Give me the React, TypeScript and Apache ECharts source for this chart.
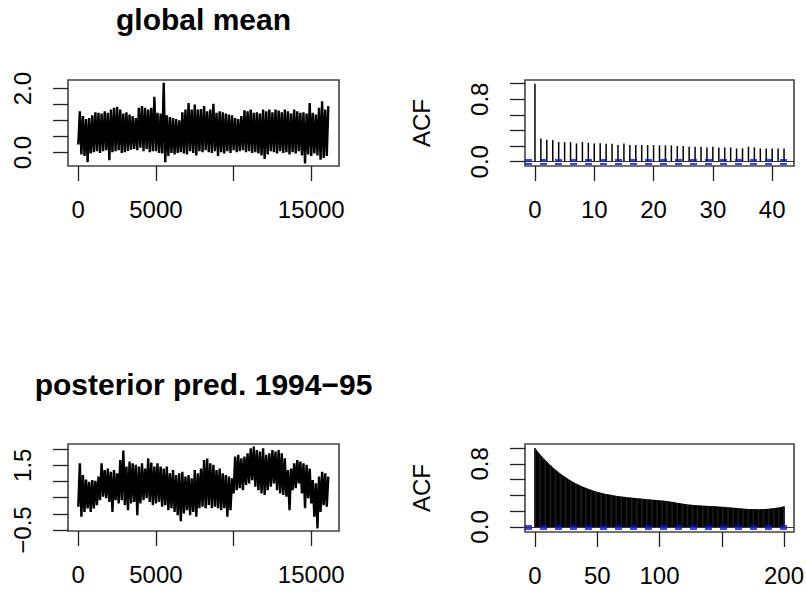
import React, { useEffect, useRef } from "react";
import * as echarts from "echarts";

const FONT = "'Liberation Sans', Arial, Helvetica, sans-serif";

// MCMC trace, summarised per block of BIN iterations: block low / block high
const BIN = 200;
const meanHi = [
  1.29, 1.14, 1.05, 1.08, 1.16, 1.26, 1.24, 1.22, 1.29, 1.24,
  1.34, 1.40, 1.43, 1.34, 1.22, 1.26, 1.19, 1.14, 1.08, 1.40,
  1.45, 1.40, 1.34, 1.40, 1.74, 1.24, 1.22, 2.18, 1.16, 1.11,
  1.08, 1.05, 1.01, 1.26, 1.34, 1.55, 1.34, 1.50, 1.34, 1.36,
  1.45, 1.29, 1.34, 1.52, 1.24, 1.29, 1.26, 1.22, 1.19, 1.16,
  1.08, 1.05, 1.14, 1.32, 1.29, 1.34, 1.24, 1.26, 1.22, 1.34,
  1.29, 1.34, 1.26, 1.34, 1.31, 1.26, 1.34, 1.29, 1.22, 1.34,
  1.29, 1.24, 1.26, 1.22, 1.55, 1.24, 1.19, 1.40, 1.60, 1.34,
  1.45,
];
const meanLo = [
  0.25, -0.06, -0.11, -0.30, -0.03, 0.01, 0.04, -0.01, 0.04, 0.07,
  -0.24, 0.01, 0.04, 0.07, -0.01, 0.01, 0.05, 0.09, 0.11, 0.07,
  0.15, 0.04, 0.11, 0.01, 0.04, 0.04, -0.01, -0.03, -0.30, -0.11,
  -0.01, -0.06, -0.01, 0.01, -0.03, -0.06, 0.04, -0.01, -0.09, 0.04,
  0.01, 0.07, 0.01, -0.01, 0.04, -0.11, 0.01, -0.03, 0.04, -0.01,
  0.07, 0.01, 0.04, 0.07, 0.01, 0.04, -0.01, 0.01, -0.03, -0.09,
  -0.20, -0.06, 0.04, 0.01, -0.03, 0.04, -0.01, 0.01, -0.06, 0.01,
  -0.03, 0.04, -0.09, -0.34, -0.06, -0.11, -0.03, -0.09, -0.22, -0.17,
  -0.11,
];
const predHi = [
  1.56, 1.20, 1.06, 0.99, 1.04, 1.02, 1.15, 1.56, 1.35, 1.40,
  1.30, 1.35, 1.25, 1.66, 1.95, 1.46, 1.61, 1.56, 1.51, 1.46,
  1.56, 1.40, 1.71, 1.58, 1.46, 1.56, 1.46, 1.40, 1.46, 1.25,
  1.35, 1.20, 1.25, 1.30, 1.15, 1.20, 1.10, 1.35, 1.25, 1.40,
  1.66, 1.71, 1.56, 1.51, 1.35, 1.40, 1.25, 1.20, 1.15, 1.10,
  1.77, 1.82, 1.71, 1.77, 1.87, 2.02, 2.08, 1.97, 1.92, 2.02,
  1.82, 1.87, 1.97, 1.92, 1.97, 1.87, 1.71, 1.35, 1.40, 1.56,
  1.66, 1.61, 1.56, 1.51, 1.40, 1.04, 0.94, 1.15, 1.30, 1.25,
  1.15,
];
const predLo = [
  0.22, -0.09, 0.06, 0.17, 0.06, 0.17, 0.27, 0.42, 0.53, 0.48,
  0.37, 0.06, 0.42, 0.32, 0.42, 0.27, 0.11, 0.32, 0.37, -0.04,
  0.32, 0.42, 0.48, 0.37, 0.27, 0.32, 0.37, 0.22, 0.27, 0.11,
  0.17, 0.06, -0.04, -0.23, 0.01, 0.11, -0.04, 0.06, -0.09, 0.17,
  0.22, 0.17, 0.27, 0.17, 0.22, 0.17, 0.11, 0.17, -0.09, 0.11,
  0.63, 0.73, 0.79, 0.73, 0.89, 0.94, 1.04, 0.84, 0.73, 0.63,
  0.58, 0.73, 0.84, 0.94, 0.73, 0.63, 0.58, 0.53, 0.11, 0.73,
  0.79, 0.94, 0.63, 0.17, 0.48, 0.32, -0.09, -0.45, 0.06, 0.27,
  0.22,
];

// autocorrelations, lag 0..42 and lag 0..200
const acfMean = [
  1.0, 0.298, 0.281, 0.277, 0.251, 0.251, 0.251, 0.234, 0.251, 0.243,
  0.234, 0.238, 0.23, 0.23, 0.213, 0.234, 0.213, 0.213, 0.213, 0.213,
  0.213, 0.21, 0.209, 0.209, 0.2, 0.2, 0.191, 0.191, 0.191, 0.183,
  0.191, 0.183, 0.183, 0.183, 0.17, 0.17, 0.191, 0.183, 0.17, 0.17,
  0.17, 0.17, 0.17,
];
const acfPred = [
  1.000, 0.979, 0.959, 0.940, 0.920, 0.902, 0.885, 0.868, 0.851, 0.835,
  0.820, 0.804, 0.789, 0.774, 0.759, 0.745, 0.732, 0.719, 0.705, 0.692,
  0.680, 0.669, 0.658, 0.646, 0.635, 0.625, 0.615, 0.604, 0.594, 0.584,
  0.575, 0.567, 0.558, 0.550, 0.542, 0.535, 0.528, 0.520, 0.513, 0.507,
  0.500, 0.494, 0.488, 0.482, 0.476, 0.470, 0.465, 0.460, 0.455, 0.450,
  0.445, 0.441, 0.437, 0.433, 0.429, 0.425, 0.422, 0.419, 0.416, 0.413,
  0.410, 0.407, 0.404, 0.401, 0.398, 0.395, 0.393, 0.391, 0.389, 0.387,
  0.385, 0.383, 0.381, 0.379, 0.377, 0.375, 0.374, 0.372, 0.371, 0.369,
  0.368, 0.366, 0.365, 0.363, 0.362, 0.360, 0.358, 0.357, 0.355, 0.354,
  0.352, 0.351, 0.349, 0.348, 0.346, 0.345, 0.344, 0.342, 0.341, 0.339,
  0.338, 0.336, 0.335, 0.333, 0.332, 0.330, 0.328, 0.325, 0.323, 0.320,
  0.318, 0.315, 0.313, 0.310, 0.308, 0.305, 0.302, 0.300, 0.297, 0.295,
  0.292, 0.290, 0.288, 0.286, 0.284, 0.282, 0.281, 0.279, 0.278, 0.276,
  0.275, 0.274, 0.273, 0.272, 0.271, 0.270, 0.269, 0.268, 0.268, 0.267,
  0.266, 0.265, 0.264, 0.264, 0.263, 0.262, 0.261, 0.260, 0.258, 0.257,
  0.256, 0.255, 0.254, 0.252, 0.251, 0.250, 0.249, 0.247, 0.246, 0.244,
  0.243, 0.242, 0.240, 0.239, 0.237, 0.236, 0.235, 0.233, 0.232, 0.231,
  0.230, 0.229, 0.228, 0.227, 0.227, 0.226, 0.226, 0.225, 0.225, 0.225,
  0.225, 0.225, 0.226, 0.226, 0.227, 0.228, 0.229, 0.231, 0.232, 0.234,
  0.235, 0.237, 0.239, 0.241, 0.243, 0.245, 0.248, 0.251, 0.254, 0.258,
  0.262,
];
const CONF = 0.016;

const titles = ["global mean", "posterior pred. 1994\u221295"];
const traceXTicks = [0, 5000, 10000, 15000];
const traceXLabels = [0, 5000, 15000];
const meanYTicks = [0, 0.5, 1, 1.5, 2];
const meanYLabels = [0, 2];
const predYTicks = [-0.5, 0, 0.5, 1, 1.5, 2];
const predYLabels = [-0.5, 1.5];
const acfMeanXTicks = [0, 10, 20, 30, 40];
const acfPredXTicks = [0, 50, 100, 150, 200];
const acfPredXLabels = [0, 50, 100, 200];
const acfYTicks = [0, 0.2, 0.4, 0.6, 0.8, 1.0];
const acfYLabels = [0, 0.8];

function zigzag(lo: number[], hi: number[]) {
  const pts: number[][] = [];
  for (let i = 0; i < lo.length; i++) {
    pts.push([i * BIN, lo[i]]);
    pts.push([i * BIN + BIN / 2, hi[i]]);
  }
  return pts;
}

const tickStyle = { color: "#222", width: 1.3 };
const labelText = { fontSize: 24, fontFamily: FONT, color: "#000" };

function xAxis(gridIndex: number, min: number, max: number, ticks: number[], labels: number[]) {
  return {
    type: "value",
    gridIndex,
    min,
    max,
    axisLine: { show: false, onZero: false },
    splitLine: { show: false },
    axisTick: { show: true, length: 15, customValues: ticks, lineStyle: tickStyle },
    axisLabel: {
      show: true,
      customValues: labels,
      margin: 31,
      ...labelText,
      formatter: (v: number) => String(v),
    },
  };
}

function yAxis(gridIndex: number, min: number, max: number, ticks: number[], labels: number[], name?: string) {
  return {
    type: "value",
    gridIndex,
    min,
    max,
    name: name || "",
    nameLocation: "middle",
    nameGap: 92,
    nameTextStyle: { ...labelText },
    axisLine: { show: false, onZero: false },
    splitLine: { show: false },
    axisTick: { show: true, length: 15, customValues: ticks, lineStyle: tickStyle },
    axisLabel: {
      show: true,
      customValues: labels,
      rotate: 90,
      margin: 34,
      ...labelText,
      formatter: (v: number) => v.toFixed(1).replace("-", "\u2212"),
    },
  };
}

function acfMarks() {
  return {
    symbol: "none",
    silent: true,
    label: { show: false },
    animation: false,
    data: [
      { yAxis: 0, lineStyle: { color: "#333", width: 1.2, type: "solid" } },
      { yAxis: CONF, lineStyle: { color: "#0000ff", width: 1.6, type: [7, 8] } },
      { yAxis: -CONF, lineStyle: { color: "#0000ff", width: 1.6, type: [7, 8] } },
    ],
  };
}

function traceSeries(axis: number, lo: number[], hi: number[]) {
  return {
    type: "line",
    xAxisIndex: axis,
    yAxisIndex: axis,
    data: zigzag(lo, hi),
    symbol: "none",
    lineStyle: { color: "#000", width: 2.4, join: "bevel" },
    silent: true,
  };
}

function acfSeries(axis: number, values: number[], width: number) {
  return {
    type: "bar",
    xAxisIndex: axis,
    yAxisIndex: axis,
    data: values.map((v, i) => [i, v]),
    barWidth: width,
    itemStyle: { color: "#000" },
    silent: true,
    markLine: acfMarks(),
  };
}

function titleText(text: string, y: number) {
  return {
    type: "text",
    x: 203.5,
    y,
    style: {
      text,
      fontSize: 30,
      fontWeight: "bold",
      fontFamily: FONT,
      fill: "#000",
      align: "center",
      verticalAlign: "middle",
    },
  };
}

export default function App() {
  const ref = useRef<HTMLDivElement>(null);
  useEffect(() => {
    if (!ref.current) return;
    const chart = echarts.init(ref.current, undefined, { renderer: "svg" });
    const gridBase = {
      show: true,
      borderColor: "#444",
      borderWidth: 1.6,
      backgroundColor: "transparent",
      containLabel: false,
      outerBoundsMode: "none",
    };
    chart.setOption({
      animation: false,
      backgroundColor: "#fff",
      grid: [
        { ...gridBase, left: 68, top: 80, width: 271, height: 86 },
        { ...gridBase, left: 525, top: 80, width: 269, height: 86 },
        { ...gridBase, left: 68, top: 444, width: 271, height: 87 },
        { ...gridBase, left: 525, top: 444, width: 269, height: 88 },
      ],
      xAxis: [
        xAxis(0, -663, 16787, traceXTicks, traceXLabels),
        xAxis(1, -1.68, 43.68, acfMeanXTicks, acfMeanXTicks),
        xAxis(2, -663, 16787, traceXTicks, traceXLabels),
        xAxis(3, -8, 208, acfPredXTicks, acfPredXLabels),
      ],
      yAxis: [
        yAxis(0, -0.42, 2.266, meanYTicks, meanYLabels),
        yAxis(1, -0.055, 1.047, acfYTicks, acfYLabels, "ACF"),
        yAxis(2, -0.53, 2.155, predYTicks, predYLabels),
        yAxis(3, -0.064, 1.051, acfYTicks, acfYLabels, "ACF"),
      ],
      graphic: [titleText(titles[0], 19), titleText(titles[1], 384)],
      series: [
        traceSeries(0, meanLo, meanHi),
        acfSeries(1, acfMean, 1.5),
        traceSeries(2, predLo, predHi),
        acfSeries(3, acfPred, 1.6),
      ],
    });
    return () => chart.dispose();
  }, []);
  return (
    <div
      ref={ref}
      style={{ position: "absolute", left: 0, top: 0, width: 806, height: 593 }}
    />
  );
}
